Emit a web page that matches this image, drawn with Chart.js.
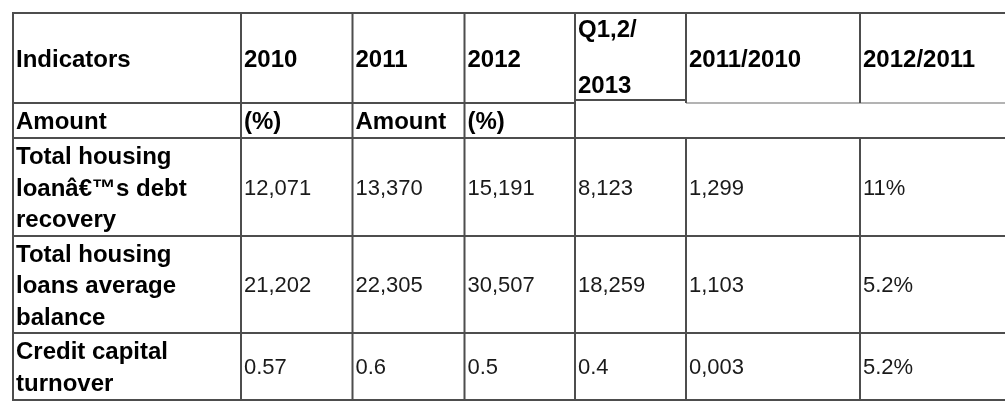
<!DOCTYPE html>
<html>
<head>
<meta charset="utf-8">
<script src="https://cdn.jsdelivr.net/npm/chart.js@4/dist/chart.umd.min.js"></script>
<style>
  html, body { margin: 0; padding: 0; background: #ffffff; }
  #wrap { width: 1005px; height: 413px; }
</style>
</head>
<body>
<div id="wrap"><canvas id="c" width="1005" height="413"></canvas></div>
<script>
// ---- table content ----
const headers = ['Indicators', '2010', '2011', '2012', 'Q1,2/\n2013', '2011/2010', '2012/2011'];
const subHeaders = ['Amount', '(%)', 'Amount', '(%)'];
const indicators = [
  'Total housing\nloanâ€™s debt\nrecovery',
  'Total housing\nloans average\nbalance',
  'Credit capital\nturnover'
];
const values2010 = ['12,071', '21,202', '0.57'];
const values2011 = ['13,370', '22,305', '0.6'];
const values2012 = ['15,191', '30,507', '0.5'];
const valuesQ12013 = ['8,123', '18,259', '0.4'];
const change2011vs2010 = ['1,299', '1,103', '0,003'];
const change2012vs2011 = ['11%', '5.2%', '5.2%'];

// ---- layout (table units = px) ----
const W = 1005, H = 413;
const tableLeft = 13, tableTop = 13;
const colWidths = [228, 111.5, 112, 110.5, 111, 174, 200];
const rowHeights = [90, 35, 98, 97, 67];
const lineGap = 31.5;
const headerGap = 56;
const font = "'Liberation Sans', Arial, Helvetica, sans-serif";
const boldSize = 24, regSize = 22;
const lineColor = '#4d4d4d';

const colEdges = [tableLeft];
colWidths.forEach(w => colEdges.push(colEdges[colEdges.length - 1] + w));
const rowEdges = [tableTop];
rowHeights.forEach(h => rowEdges.push(rowEdges[rowEdges.length - 1] + h));

const tablePlugin = {
  id: 'tablePlugin',
  beforeDraw(chart) {
    const ctx = chart.ctx;
    ctx.save();
    ctx.fillStyle = '#ffffff';
    ctx.fillRect(0, 0, chart.width, chart.height);
    ctx.restore();
  },
  afterDraw(chart) {
    const ctx = chart.ctx;
    const sx = chart.scales.x, sy = chart.scales.y;
    const X = v => sx.getPixelForValue(v);
    const Y = v => sy.getPixelForValue(v);
    ctx.save();

    function hline(y, x0, x1, color, w) {
      ctx.strokeStyle = color; ctx.lineWidth = w;
      ctx.beginPath(); ctx.moveTo(X(x0), Y(y)); ctx.lineTo(X(x1), Y(y)); ctx.stroke();
    }
    function vline(x, y0, y1, color, w) {
      ctx.strokeStyle = color; ctx.lineWidth = w;
      ctx.beginPath(); ctx.moveTo(X(x), Y(y0)); ctx.lineTo(X(x), Y(y1)); ctx.stroke();
    }
    const right = colEdges[colEdges.length - 1];
    hline(rowEdges[0], colEdges[0] - 1, right, lineColor, 2);
    hline(rowEdges[1], colEdges[0], colEdges[4], lineColor, 2);
    hline(rowEdges[1] - 3, colEdges[4], colEdges[5], lineColor, 2);
    hline(rowEdges[1], colEdges[5], right, '#9a9a9a', 1.5);
    for (let r = 2; r < rowEdges.length; r++) hline(rowEdges[r], colEdges[0] - 1, right, lineColor, 2);
    for (let c = 0; c <= 4; c++) vline(colEdges[c], rowEdges[0], rowEdges[rowEdges.length - 1], lineColor, 2);
    for (let c = 5; c <= 6; c++) {
      vline(colEdges[c], rowEdges[0], rowEdges[1], lineColor, 2);
      vline(colEdges[c], rowEdges[2], rowEdges[rowEdges.length - 1], lineColor, 2);
    }

    function cellText(text, col, rowTop, rowBottom, bold, gap) {
      const size = bold ? boldSize : regSize;
      ctx.font = (bold ? 'bold ' : '') + size + 'px ' + font;
      ctx.fillStyle = bold ? '#000000' : '#1a1a1a';
      ctx.textAlign = 'left';
      ctx.textBaseline = 'alphabetic';
      const lines = text.split('\n');
      const cy = (rowTop + rowBottom) / 2;
      const cap = size * 0.716;
      const x = X(colEdges[col] + 3);
      lines.forEach((ln, i) => {
        const yc = cy + (i - (lines.length - 1) / 2) * gap;
        ctx.fillText(ln, x, Y(yc) + cap / 2);
      });
    }
    headers.forEach((h, c) => cellText(h, c, rowEdges[0], rowEdges[1] - (c === 4 ? 3 : 0), true, headerGap));
    subHeaders.forEach((h, c) => cellText(h, c, rowEdges[1], rowEdges[2], true, lineGap));
    const cols = [values2010, values2011, values2012, valuesQ12013, change2011vs2010, change2012vs2011];
    indicators.forEach((lab, r) => {
      const top = rowEdges[r + 2], bot = rowEdges[r + 3];
      cellText(lab, 0, top, bot, true, lineGap);
      cols.forEach((arr, c) => cellText(arr[r], c + 1, top, bot, false, lineGap));
    });
    ctx.restore();
  }
};

new Chart(document.getElementById('c'), {
  type: 'scatter',
  data: { datasets: [{ data: [], showLine: false }] },
  options: {
    responsive: false,
    animation: false,
    devicePixelRatio: 1,
    layout: { padding: 0 },
    plugins: { legend: { display: false }, tooltip: { enabled: false } },
    scales: {
      x: { type: 'linear', display: false, min: 0, max: W },
      y: { type: 'linear', display: false, min: 0, max: H, reverse: true }
    }
  },
  plugins: [tablePlugin]
});
</script>
</body>
</html>
